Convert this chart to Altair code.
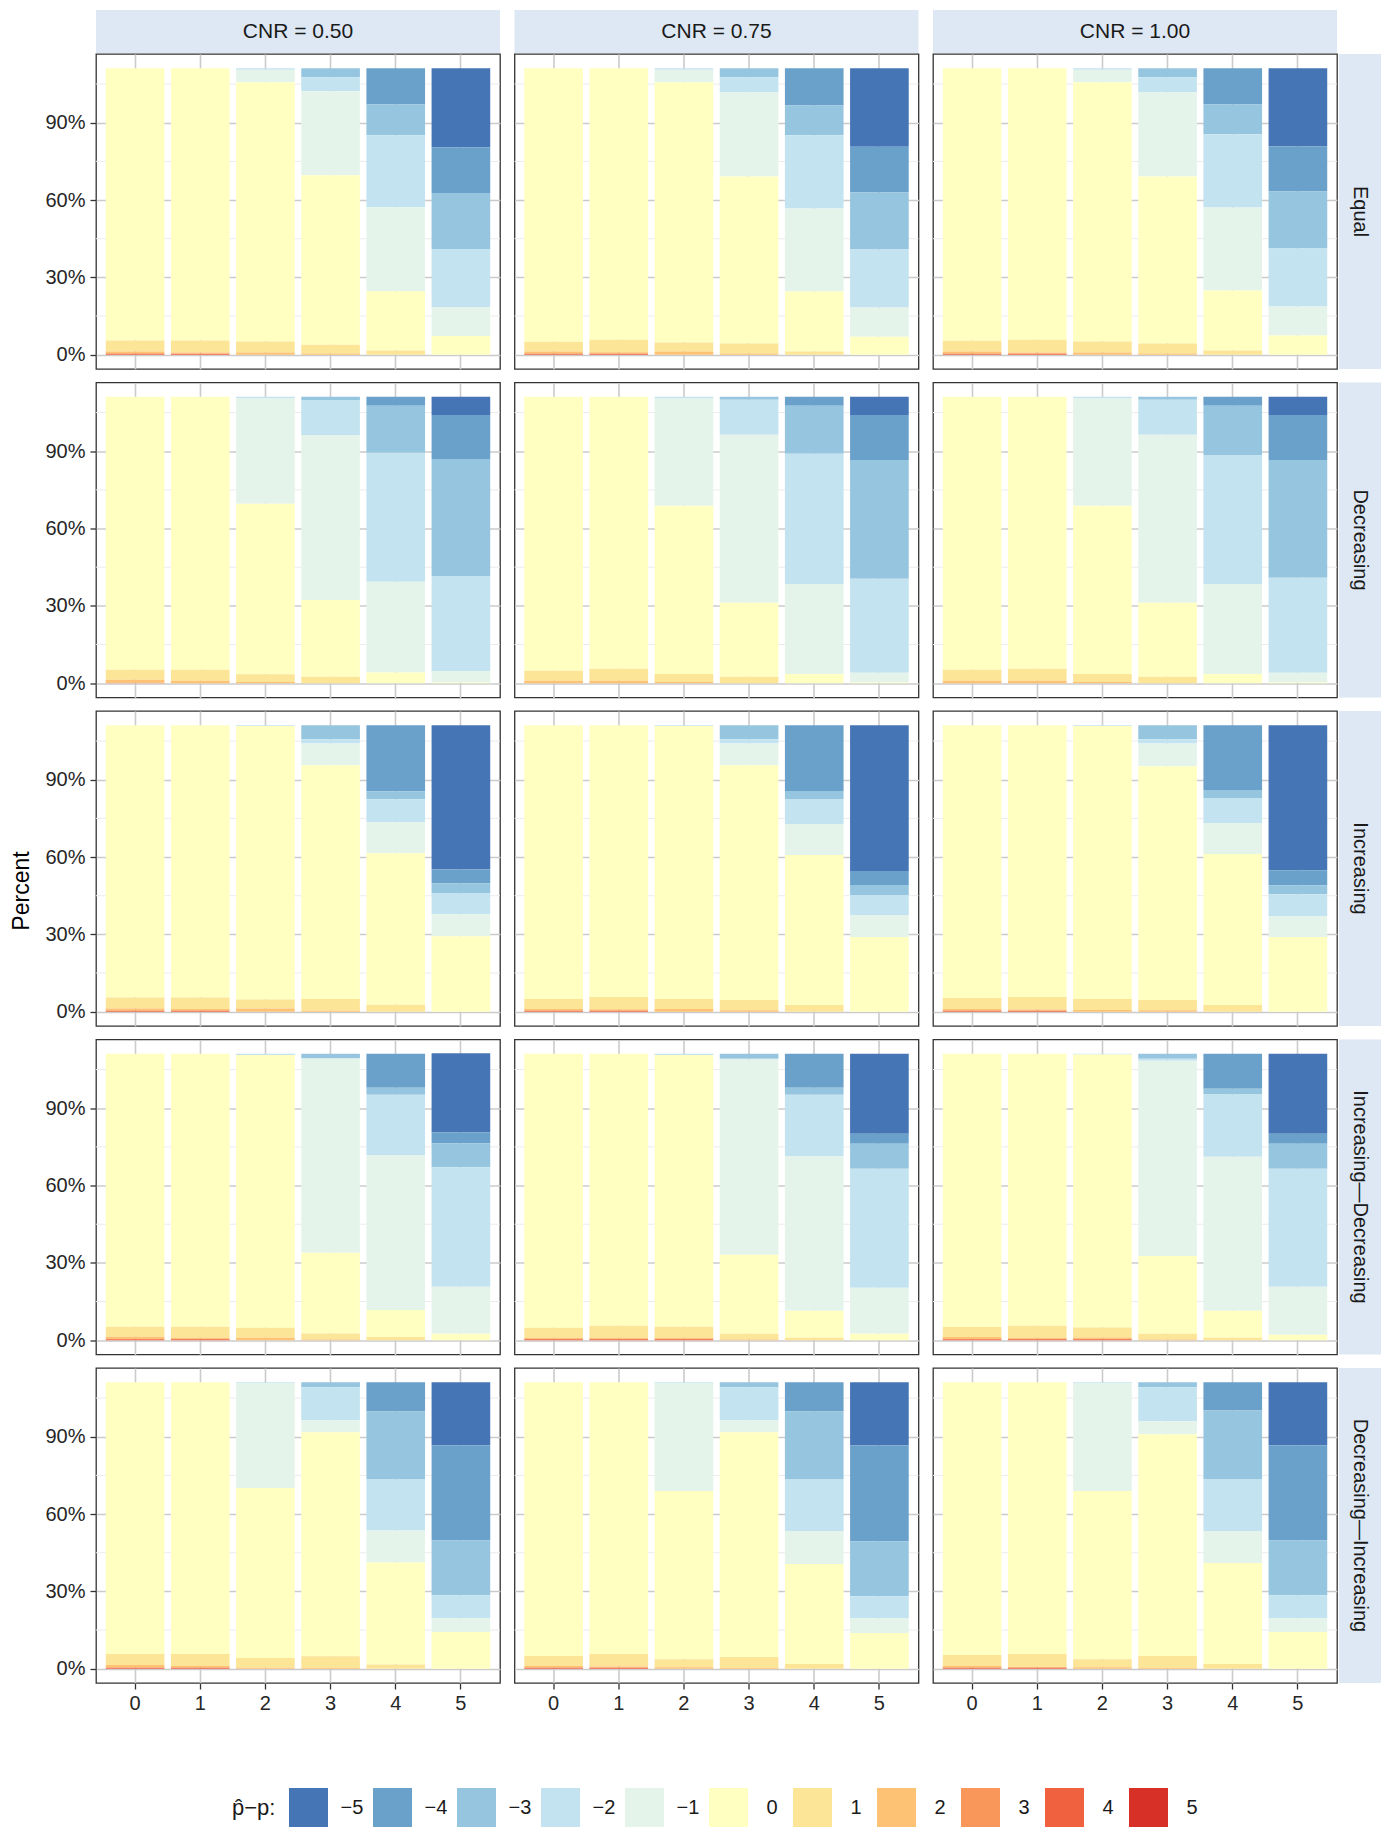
import altair as alt
import pandas as pd

CATS = [-5, -4, -3, -2, -1, 0, 1, 2, 3, 4, 5]
CAT_LABELS = ["−5", "−4", "−3", "−2", "−1", "0", "1", "2", "3", "4", "5"]
COLORS = ["#4575b4", "#6aa1cb", "#96c5df", "#c2e3ef", "#e5f4eb", "#ffffc2",
          "#fde597", "#fdc273", "#f9965a", "#ef613f", "#d73027"]
XCP = [0, 1, 2, 3, 4, 5]
SHAPES = ["Equal", "Decreasing", "Increasing", "Increasing—Decreasing", "Decreasing—Increasing"]
CNRS = ["CNR = 0.50", "CNR = 0.75", "CNR = 1.00"]
Y_TICKS = [0, 30, 60, 90]
Y_MINOR = [15, 45, 75, 105]

# each bar: percent for p_hat - p = -5 ... 5
EQUAL_050 = [
    [0, 0, 0, 0, 0, 105.6, 4.3, 0.6, 0.3, 0.3, 0],
    [0, 0, 0, 0, 0, 105.6, 4.7, 0.3, 0.2, 0.3, 0],
    [0, 0, 0, 0.5, 4.9, 100.6, 4.3, 0.8, 0, 0, 0],
    [0, 0, 3.5, 5.4, 32.6, 65.7, 3.4, 0.5, 0, 0, 0],
    [0, 14.0, 12.0, 27.9, 32.6, 23.0, 1.6, 0, 0, 0, 0],
    [30.6, 17.8, 21.7, 22.5, 11.3, 7.2, 0, 0, 0, 0, 0],
]
EQUAL_075 = [
    [0, 0, 0, 0, 0, 106.1, 3.8, 0.8, 0, 0.4, 0],
    [0, 0, 0, 0, 0, 105.3, 4.9, 0.5, 0, 0.4, 0],
    [0, 0, 0, 0.5, 4.9, 101.0, 3.5, 1.2, 0, 0, 0],
    [0, 0, 3.5, 5.8, 32.7, 64.8, 3.8, 0.5, 0, 0, 0],
    [0, 14.4, 11.6, 28.4, 32.2, 23.3, 1.2, 0, 0, 0, 0],
    [30.4, 17.8, 22.1, 22.5, 11.3, 7.0, 0, 0, 0, 0, 0],
]
EQUAL_100 = [
    [0, 0, 0, 0, 0, 105.7, 4.2, 0.8, 0, 0.4, 0],
    [0, 0, 0, 0, 0, 105.3, 5.0, 0.4, 0, 0.4, 0],
    [0, 0, 0, 0.5, 4.9, 100.6, 4.3, 0.8, 0, 0, 0],
    [0, 0, 3.5, 5.8, 32.7, 64.8, 3.8, 0.5, 0, 0, 0],
    [0, 14.0, 11.6, 28.4, 32.2, 23.3, 1.6, 0, 0, 0, 0],
    [30.3, 17.5, 22.1, 22.5, 11.3, 7.4, 0, 0, 0, 0, 0],
]
DEC_050 = [
    [0, 0, 0, 0, 0, 105.9, 3.9, 1.1, 0.2, 0, 0],
    [0, 0, 0, 0, 0, 105.9, 4.3, 0.9, 0, 0, 0],
    [0, 0, 0, 0.4, 41.1, 66.1, 3.0, 0.5, 0, 0, 0],
    [0, 0, 1.2, 13.6, 64.0, 29.8, 2.5, 0, 0, 0, 0],
    [0, 3.5, 18.2, 50.0, 35.3, 4.1, 0, 0, 0, 0, 0],
    [7.0, 17.1, 45.4, 36.9, 4.4, 0.3, 0, 0, 0, 0, 0],
]
DEC_075 = [
    [0, 0, 0, 0, 0, 106.3, 3.9, 0.9, 0, 0, 0],
    [0, 0, 0, 0, 0, 105.5, 4.7, 0.9, 0, 0, 0],
    [0, 0, 0, 0.4, 41.9, 65.2, 3.1, 0.5, 0, 0, 0],
    [0, 0, 1.1, 13.6, 65.2, 28.7, 2.5, 0, 0, 0, 0],
    [0, 3.5, 18.6, 50.5, 34.9, 3.6, 0, 0, 0, 0, 0],
    [7.0, 17.5, 46.1, 36.5, 3.7, 0.3, 0, 0, 0, 0, 0],
]
DEC_100 = [
    [0, 0, 0, 0, 0, 105.9, 4.3, 0.9, 0, 0, 0],
    [0, 0, 0, 0, 0, 105.5, 4.7, 0.9, 0, 0, 0],
    [0, 0, 0, 0.4, 41.9, 65.2, 3.1, 0.5, 0, 0, 0],
    [0, 0, 1.1, 13.6, 65.2, 28.7, 2.5, 0, 0, 0, 0],
    [0, 3.5, 19.1, 50.0, 34.9, 3.6, 0, 0, 0, 0, 0],
    [7.0, 17.5, 45.7, 36.9, 3.7, 0.3, 0, 0, 0, 0, 0],
]
INC_050 = [
    [0, 0, 0, 0, 0, 105.6, 4.3, 0.8, 0, 0.4, 0],
    [0, 0, 0, 0, 0, 105.6, 4.5, 0.6, 0, 0.4, 0],
    [0, 0, 0, 0.3, 0, 106.1, 3.5, 1.2, 0, 0, 0],
    [0, 0, 5.4, 1.6, 8.5, 90.7, 4.5, 0.4, 0, 0, 0],
    [0, 25.6, 3.1, 8.9, 12.0, 58.8, 2.7, 0, 0, 0, 0],
    [55.9, 5.4, 3.9, 8.1, 8.5, 29.3, 0, 0, 0, 0, 0],
]
INC_075 = [
    [0, 0, 0, 0, 0, 106.2, 3.9, 0.6, 0, 0.4, 0],
    [0, 0, 0, 0, 0, 105.4, 4.8, 0.5, 0, 0.4, 0],
    [0, 0, 0, 0.3, 0, 105.9, 3.9, 1.0, 0, 0, 0],
    [0, 0, 5.4, 1.6, 8.5, 91.1, 3.9, 0.6, 0, 0, 0],
    [0, 25.5, 3.1, 9.7, 12.0, 58.2, 2.6, 0, 0, 0, 0],
    [56.5, 5.4, 3.9, 7.8, 8.5, 29.0, 0, 0, 0, 0, 0],
]
INC_100 = [
    [0, 0, 0, 0, 0, 105.8, 4.3, 0.6, 0, 0.4, 0],
    [0, 0, 0, 0, 0, 105.4, 4.9, 0.4, 0, 0.4, 0],
    [0, 0, 0, 0.3, 0, 105.9, 4.2, 0.7, 0, 0, 0],
    [0, 0, 5.4, 1.6, 8.9, 90.7, 3.9, 0.6, 0, 0, 0],
    [0, 25.1, 3.1, 9.7, 12.0, 58.6, 2.6, 0, 0, 0, 0],
    [56.2, 5.8, 3.5, 8.5, 8.1, 29.0, 0, 0, 0, 0, 0],
]
INCDEC_050 = [
    [0, 0, 0, 0, 0, 105.9, 3.9, 0.9, 0, 0.4, 0],
    [0, 0, 0, 0, 0, 105.9, 4.3, 0.5, 0, 0.4, 0],
    [0, 0, 0, 0.4, 0, 105.9, 3.9, 0.9, 0, 0, 0],
    [0, 0, 1.6, 0.3, 75.3, 31.3, 2.3, 0.3, 0, 0, 0],
    [0, 13.2, 2.7, 23.3, 60.2, 10.5, 1.2, 0, 0, 0, 0],
    [30.6, 4.3, 9.3, 46.4, 18.2, 2.5, 0, 0, 0, 0, 0],
]
INCDEC_075 = [
    [0, 0, 0, 0, 0, 106.3, 3.9, 0.5, 0, 0.4, 0],
    [0, 0, 0, 0, 0, 105.5, 4.7, 0.5, 0, 0.4, 0],
    [0, 0, 0, 0.4, 0, 105.5, 4.3, 0.5, 0, 0.4, 0],
    [0, 0, 1.9, 0.3, 75.8, 30.6, 2.2, 0.3, 0, 0, 0],
    [0, 13.2, 2.7, 23.7, 60.1, 10.5, 0.9, 0, 0, 0, 0],
    [31.0, 3.9, 9.7, 46.2, 17.8, 2.5, 0, 0, 0, 0, 0],
]
INCDEC_100 = [
    [0, 0, 0, 0, 0, 106.0, 3.9, 0.8, 0, 0.4, 0],
    [0, 0, 0, 0, 0, 105.5, 4.7, 0.5, 0, 0.4, 0],
    [0, 0, 0, 0.3, 0, 105.9, 3.9, 0.6, 0, 0.4, 0],
    [0, 0, 1.9, 0.8, 75.7, 30.2, 2.2, 0.3, 0, 0, 0],
    [0, 13.5, 2.3, 24.1, 59.8, 10.5, 0.9, 0, 0, 0, 0],
    [31.0, 3.9, 9.7, 45.8, 18.6, 2.1, 0, 0, 0, 0, 0],
]
DECINC_050 = [
    [0, 0, 0, 0, 0, 105.4, 4.3, 1.0, 0, 0.4, 0],
    [0, 0, 0, 0, 0, 105.4, 4.7, 0.6, 0, 0.4, 0],
    [0, 0, 0, 0.3, 40.7, 66.0, 3.7, 0.4, 0, 0, 0],
    [0, 0, 1.9, 12.8, 4.7, 86.9, 4.5, 0.3, 0, 0, 0],
    [0, 11.3, 26.4, 19.8, 12.4, 39.6, 1.6, 0, 0, 0, 0],
    [24.4, 36.9, 21.3, 8.9, 5.4, 14.2, 0, 0, 0, 0, 0],
]
DECINC_075 = [
    [0, 0, 0, 0, 0, 106.2, 3.9, 0.6, 0, 0.4, 0],
    [0, 0, 0, 0, 0, 105.4, 4.9, 0.4, 0, 0.4, 0],
    [0, 0, 0, 0.3, 41.9, 65.2, 3.1, 0.6, 0, 0, 0],
    [0, 0, 1.9, 12.8, 4.7, 87.2, 4.2, 0.3, 0, 0, 0],
    [0, 11.3, 26.2, 20.2, 12.8, 38.8, 1.8, 0, 0, 0, 0],
    [24.5, 37.2, 21.3, 8.5, 5.8, 13.8, 0, 0, 0, 0, 0],
]
DECINC_100 = [
    [0, 0, 0, 0, 0, 105.8, 4.3, 0.6, 0, 0.4, 0],
    [0, 0, 0, 0, 0, 105.4, 5.0, 0.3, 0, 0.4, 0],
    [0, 0, 0, 0.3, 41.9, 65.2, 3.1, 0.6, 0, 0, 0],
    [0, 0, 1.9, 13.2, 5.0, 86.1, 4.6, 0.3, 0, 0, 0],
    [0, 10.9, 26.6, 20.2, 12.4, 39.2, 1.8, 0, 0, 0, 0],
    [24.4, 36.9, 21.3, 8.9, 5.4, 14.2, 0, 0, 0, 0, 0],
]

PANELS = [
    [EQUAL_050, EQUAL_075, EQUAL_100],
    [DEC_050, DEC_075, DEC_100],
    [INC_050, INC_075, INC_100],
    [INCDEC_050, INCDEC_075, INCDEC_100],
    [DECINC_050, DECINC_075, DECINC_100],
]

W, H = 404, 315
YDOM = [-5.556, 116.667]
STRIP = "#dde8f4"
FONT = "Liberation Sans"
LABEL_COLOR = "#262626"

legend_spec = alt.Legend(
    title="p̂−p:", orient="none", legendX=136, legendY=1734,
    direction="horizontal", columns=11, gridAlign="all",
    titleOrient="left", titleFontSize=22, titleFont=FONT, titleFontWeight="normal",
    titleColor="#1a1a1a", titlePadding=13, titleBaseline="middle",
    symbolType="square", symbolSize=1521, symbolStrokeWidth=0, symbolOpacity=1,
    labelFontSize=20, labelFont=FONT, labelColor="#1a1a1a", labelOffset=24,
    labelAlign="center", columnPadding=9,
)


def make_panel(values, r, c):
    rows = []
    for xi, bar in enumerate(values):
        for k, lab, v in zip(CATS, CAT_LABELS, bar):
            if v > 0:
                rows.append({"cp": XCP[xi], "k": k, "d": lab, "pct": v})
    df = pd.DataFrame(rows)
    left = c == 0
    bottom = r == 4

    xaxis = alt.Axis(
        title=None, grid=True, gridColor="#cbcbcb", gridWidth=1.6, bandPosition=0.5,
        labels=bottom, ticks=bottom, domain=False, labelAngle=0,
        labelFontSize=20, labelFont=FONT, labelColor=LABEL_COLOR, labelPadding=4,
        tickSize=6, tickColor="#333333", tickWidth=1.3,
    )
    if left:
        yaxis = alt.Axis(
            title="Percent", values=Y_TICKS, grid=True, gridColor="#cbcbcb", gridWidth=1.6,
            labels=True, ticks=True, domain=False, labelExpr="datum.value + '%'",
            labelFontSize=20, labelFont=FONT, labelColor=LABEL_COLOR, labelPadding=5,
            tickSize=6, tickColor="#333333", tickWidth=1.3,
            titleFontSize=23, titleFont=FONT, titleFontWeight="normal",
            titleColor="#000000" if r == 2 else "#ffffff", titlePadding=11,
            titleY=H / 2 + 22,
        )
    else:
        yaxis = alt.Axis(
            title=None, values=Y_TICKS, grid=True, gridColor="#cbcbcb", gridWidth=1.6,
            labels=False, ticks=False, domain=False,
        )

    yscale = alt.Scale(domain=YDOM, nice=False, zero=False)

    minor = alt.Chart(pd.DataFrame({"pct": Y_MINOR})).mark_rule(
        color="#ececec", strokeWidth=1
    ).encode(
        y=alt.Y("pct:Q", scale=yscale, axis=yaxis)
    )

    bars = alt.Chart(df).mark_bar(stroke=None).encode(
        x=alt.X("cp:O", scale=alt.Scale(domain=XCP, paddingInner=0.1, paddingOuter=0.15), axis=xaxis),
        y=alt.Y("pct:Q", stack="zero", scale=yscale, axis=yaxis),
        color=alt.Color("d:N", scale=alt.Scale(domain=CAT_LABELS, range=COLORS), legend=legend_spec),
        order=alt.Order("k:Q", sort="descending"),
    )

    layers = [minor, bars]
    if r == 0:
        sdf = pd.DataFrame({"t": [CNRS[c]]})
        layers.append(alt.Chart(sdf).mark_rect(color=STRIP).encode(
            x=alt.value(0), x2=alt.value(W), y=alt.value(-44), y2=alt.value(-1)))
        layers.append(alt.Chart(sdf).mark_text(
            font=FONT, fontSize=21, color="#1a1a1a", baseline="middle", align="center"
        ).encode(text="t:N", x=alt.value(W / 2), y=alt.value(-22)))
    if c == 2:
        sdf = pd.DataFrame({"t": [SHAPES[r]]})
        layers.append(alt.Chart(sdf).mark_rect(color=STRIP).encode(
            x=alt.value(W + 2), x2=alt.value(W + 44), y=alt.value(0), y2=alt.value(H)))
        layers.append(alt.Chart(sdf).mark_text(
            font=FONT, fontSize=20, color="#1a1a1a", baseline="middle", align="center", angle=90
        ).encode(text="t:N", x=alt.value(W + 23), y=alt.value(H / 2)))

    return alt.layer(*layers).properties(width=W, height=H)


charts = []
for r in range(5):
    for c in range(3):
        charts.append(make_panel(PANELS[r][c], r, c))

chart = alt.concat(
    *charts, columns=3, spacing={"row": 11.5, "column": 10.5}, align="each"
).resolve_scale(color="shared").properties(
    padding={"left": 10, "top": 9, "right": 0, "bottom": 0},
    background="white",
).configure_view(
    stroke="#333333", strokeWidth=1.3
)

chart.save("out.html", embed_options={"renderer": "svg", "actions": False})
